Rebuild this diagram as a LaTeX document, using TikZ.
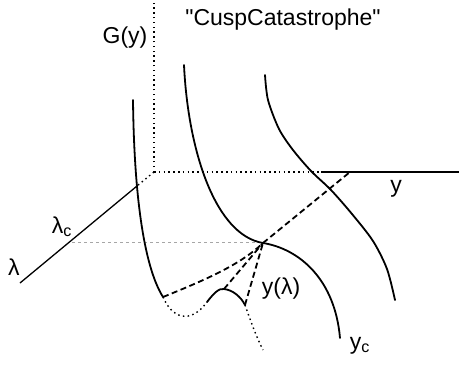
\documentclass[tikz,border=0pt]{standalone}
\usepackage{fontspec}
\setmainfont{Liberation Sans}[Ligatures=TeXOff]
\begin{document}
\begin{tikzpicture}[x=1pt,y=-1pt,
  curve/.style={line width=1.8pt,line cap=round},
  axisline/.style={line width=1.3pt},
  dotax/.style={line width=1.4pt,dash pattern=on 1.5pt off 3.3pt},
  dashln/.style={line width=1.8pt,dash pattern=on 6pt off 3.5pt},
  faint/.style={line width=0.8pt,gray!70,dash pattern=on 3pt off 3pt},
  lbl/.style={font=\fontsize{23}{26}\selectfont,inner sep=0pt}]
\useasboundingbox (0,0) rectangle (459,365);
% axes
\coordinate (O) at (154,172);
\coordinate (Gtop) at (154,0);
\coordinate (ydot) at (321,172);
\coordinate (yend) at (459,172);
\coordinate (lcut) at (137,186);
\coordinate (lend) at (20,283);
\draw[dotax] (O) -- (Gtop);
\draw[dotax] (O) -- (ydot);
\draw[axisline] (ydot) -- (yend);
\draw[dotax] (O) -- (lcut);
\draw[axisline] (lcut) -- (lend);
% lambda_c guide
\coordinate (cusp) at (263,243);
\coordinate (lc) at (72,242);
\draw[faint] (lc) -- (263,242);
% curve 1
\coordinate (c1a) at (133,100);
\coordinate (c1b) at (163,297);
\draw[curve] (c1a) .. controls (134,190) and (143,265) .. (c1b);
\draw[dotax] (c1b) .. controls (172,318) and (190,325) .. (207,302);
% small arc
\coordinate (sa) at (207,302);
\coordinate (sp) at (224,289);
\coordinate (sb) at (245,305);
\draw[curve] (sa) .. controls (214,293) and (219,288) .. (sp) .. controls (233,290) and (241,297) .. (sb);
\draw[dotax] (sb) .. controls (252,325) and (257,338) .. (263,350);
% curve 2
\draw[curve] (184,65) .. controls (188,150) and (215,235) .. (cusp) .. controls (300,249) and (335,280) .. (340,338);
% curve 3
\draw[curve] plot[smooth] coordinates {(265,75) (268,100) (279,129) (293,150) (311,171) (331,190) (352,214) (373,241) (387,269) (395,300)};
% dashed lines
\coordinate (yax) at (350,172);
\draw[dashln] (c1b) .. controls (205,280) and (240,265) .. (cusp);
\draw[dashln] (sp) -- (cusp);
\draw[dashln] (sb) -- (cusp);
\draw[dashln] (cusp) -- (yax);
% labels
\node[lbl,anchor=base] (title) at (283,25) {"CuspCatastrophe"};
\node[lbl,anchor=base] (G) at (125,43) {G(y)};
\node[lbl,anchor=base] (lam) at (14,275) {λ};
\node[lbl,anchor=base] (lamc) at (62,233) {λ\textsubscript{c}};
\node[lbl,anchor=base] (ylam) at (281,294) {y(λ)};
\node[lbl,anchor=base] (yc) at (360,349) {y\textsubscript{c}};
\node[lbl,anchor=base] (yl) at (396,192) {y};
\end{tikzpicture}
\end{document}
